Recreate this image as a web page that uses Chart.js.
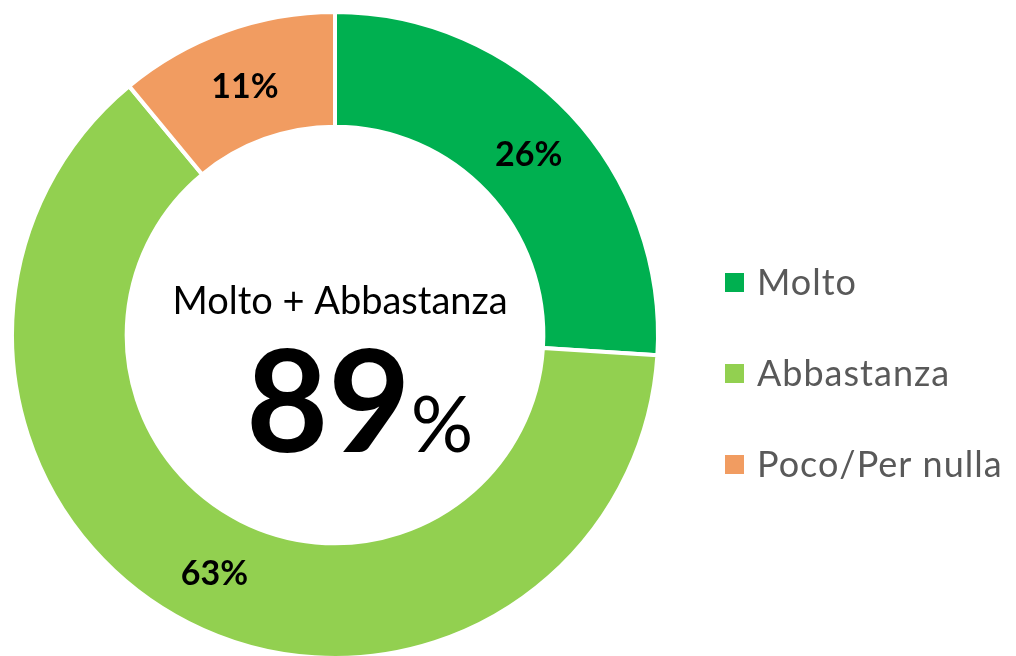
<!DOCTYPE html>
<html>
<head>
<meta charset="utf-8">
<script src="https://cdn.jsdelivr.net/npm/chart.js@4"></script>
<style>
  html, body { margin: 0; padding: 0; background: #fff; overflow: hidden; }
  #wrap { width: 1016px; height: 656px; overflow: hidden; }
</style>
</head>
<body>
<div id="wrap"><canvas id="donut" width="1016" height="660"></canvas></div>
<script>
// Data
const labels = ['Molto', 'Abbastanza', 'Poco/Per nulla'];
const values = [26, 63, 11];
const colors = ['#00B050', '#92D050', '#F19C61'];
const centerTitle = 'Molto + Abbastanza';
const centerValue = '89';

const FONT = "Lato, 'Open Sans', sans-serif";

// Slice labels + centre text + legend, drawn on the canvas
const overlay = {
    id: 'overlay',
    afterDraw(chart) {
        const ctx = chart.ctx;
        const meta = chart.getDatasetMeta(0);
        ctx.save();

        // percentage labels on each slice
        ctx.fillStyle = '#000';
        ctx.font = `bold 34px ${FONT}`;
        ctx.textAlign = 'center';
        ctx.textBaseline = 'middle';
        meta.data.forEach((arc, i) => {
            const p = arc.getCenterPoint();
            ctx.fillText(values[i] + '%', p.x, p.y + 2);
        });

        // centre text
        const cx = meta.data[0].x;
        ctx.font = `38px ${FONT}`;
        ctx.textBaseline = 'alphabetic';
        ctx.fillText(centerTitle, cx + 5, 314);

        ctx.textAlign = 'left';
        ctx.font = `bold 142px ${FONT}`;
        const w = ctx.measureText(centerValue).width;
        ctx.fillText(centerValue, 246, 452);
        ctx.font = `78px ${FONT}`;
        ctx.fillText('%', 246 + w, 452);

        // legend
        ctx.font = `36px ${FONT}`;
        ctx.letterSpacing = '1px';
        ctx.textBaseline = 'middle';
        labels.forEach((lab, i) => {
            const y = 282 + i * 91;
            ctx.fillStyle = colors[i];
            ctx.fillRect(725, y - 9, 19, 19);
            ctx.fillStyle = '#595959';
            ctx.fillText(lab, 757, y + 1);
        });

        ctx.restore();
    }
};

new Chart(document.getElementById('donut'), {
    type: 'doughnut',
    data: {
        labels: labels,
        datasets: [{
            data: values,
            backgroundColor: colors,
            borderColor: '#fff',
            borderWidth: 4
        }]
    },
    options: {
        responsive: false,
        animation: false,
        cutout: '64.5%',
        layout: {
            padding: { left: 10, top: 10, right: 356, bottom: 0 }
        },
        plugins: {
            legend: { display: false },
            tooltip: { enabled: false }
        }
    },
    plugins: [overlay]
});
</script>
</body>
</html>
